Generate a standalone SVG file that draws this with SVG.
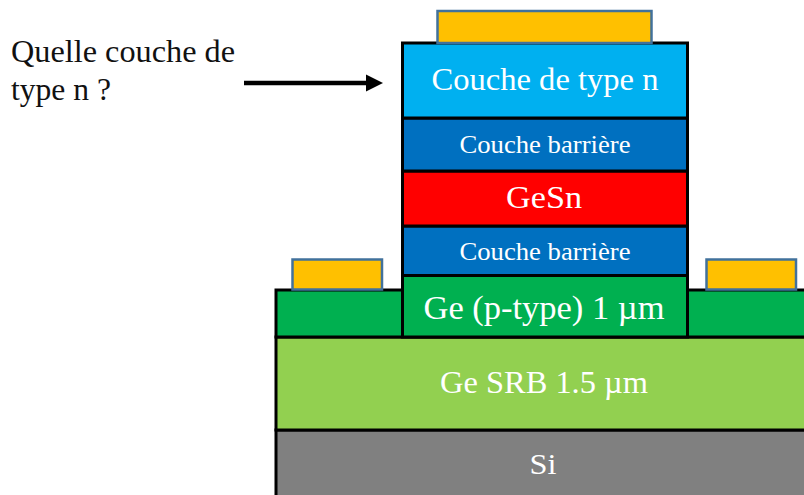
<svg xmlns="http://www.w3.org/2000/svg" width="804" height="495" viewBox="0 0 804 495">
<style>
.l{stroke:#000;stroke-width:3}
.c{fill:#ffc000;stroke:#41719c;stroke-width:2.5}
text{font-family:"Liberation Serif","DejaVu Serif",serif;text-anchor:middle;fill:#fff}
.q{fill:#111;text-anchor:start;font-size:31px}
</style>
<defs><marker id="a" markerUnits="userSpaceOnUse" markerWidth="20" markerHeight="20" refX="17" refY="9" orient="auto"><path d="M0 0.500L17 9L0 17.500Z" fill="#000"/></marker></defs>
<g id="si"><rect class="l" x="276" y="430" width="540" height="80" fill="#808080"/><text x="543" y="474" font-size="30" textLength="27" lengthAdjust="spacingAndGlyphs">Si</text></g>
<g id="srb"><rect class="l" x="276" y="337" width="540" height="93" fill="#92d050"/><text x="544" y="393" font-size="31" textLength="208" lengthAdjust="spacingAndGlyphs">Ge SRB 1.5 µm</text></g>
<g id="ge-base"><rect class="l" x="276" y="290" width="540" height="47" fill="#00b050"/></g>
<g id="contact-left"><rect class="c" x="292.500" y="259.500" width="89.500" height="30"/></g>
<g id="contact-right"><rect class="c" x="706.500" y="259.500" width="89.500" height="30"/></g>
<g id="ge-p"><rect class="l" x="402.500" y="275.500" width="285" height="61.500" fill="#00b050"/><text x="544" y="319" font-size="33" textLength="241" lengthAdjust="spacingAndGlyphs">Ge (p-type) 1 µm</text></g>
<g id="barriere-bas"><rect class="l" x="402.500" y="226" width="285" height="49.500" fill="#0070c0"/><text x="545" y="260" font-size="25" textLength="171" lengthAdjust="spacingAndGlyphs">Couche barrière</text></g>
<g id="gesn"><rect class="l" x="402.500" y="171" width="285" height="55" fill="#f00"/><text x="544" y="208" font-size="32" textLength="76" lengthAdjust="spacingAndGlyphs">GeSn</text></g>
<g id="barriere-haut"><rect class="l" x="402.500" y="118" width="285" height="53" fill="#0070c0"/><text x="545" y="153" font-size="25" textLength="171" lengthAdjust="spacingAndGlyphs">Couche barrière</text></g>
<g id="type-n"><rect class="l" x="402.500" y="43" width="285" height="75" fill="#00b0f0"/><text x="545" y="90" font-size="32" textLength="227" lengthAdjust="spacingAndGlyphs">Couche de type n</text></g>
<g id="contact-top"><rect class="c" x="437.500" y="11" width="214" height="32"/></g>
<g id="question"><text class="q" x="11" y="62" textLength="224" lengthAdjust="spacingAndGlyphs">Quelle couche de</text><text class="q" x="11" y="100" textLength="100" lengthAdjust="spacingAndGlyphs">type n ?</text></g>
<g id="connectors"><line x1="244" y1="83" x2="370" y2="83" stroke="#000" stroke-width="4.500"/><path d="M366 74.500L383 83L366 91.500Z" fill="#000"/></g>
</svg>
